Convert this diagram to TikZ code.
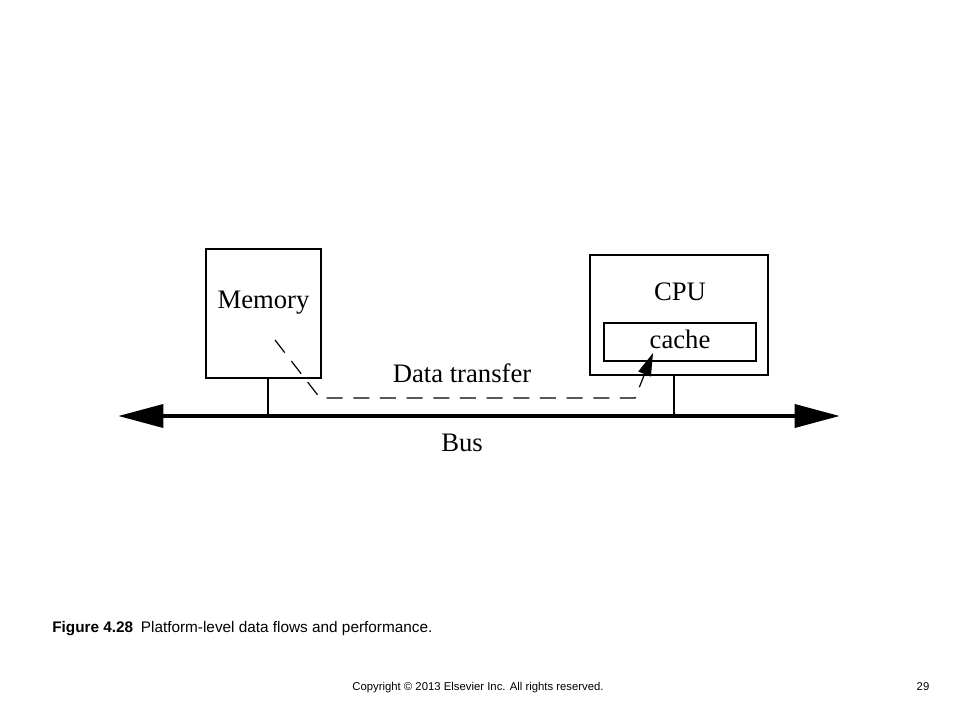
\documentclass[tikz,border=0pt]{standalone}
\usepackage{fontspec}
\setmainfont{Liberation Serif}
\newfontfamily\capfont{Liberation Sans}
\usetikzlibrary{arrows.meta}

\begin{document}
\begin{tikzpicture}[x=0.75pt, y=-0.75pt,
		unit/.style = {draw, line width=1pt, inner sep=0pt},
		lbl/.style = {font=\fontsize{20}{24}\selectfont, inner sep=0pt},
		bus/.style = {line width=3.5pt, {Triangle[length=34pt,width=17pt]}-{Triangle[length=34pt,width=17pt]}},
		tap/.style = {line width=0.9pt},
		flow/.style = {line width=0.9pt, dash pattern=on 12pt off 8pt, -{Triangle[length=17pt,width=10pt]}},
		capt/.style = {font=\capfont\fontsize{11.5}{14}\selectfont, inner sep=0pt, anchor=base west},
		foot/.style = {font=\capfont\fontsize{8.5}{10}\selectfont, inner sep=0pt, anchor=base}]
			\useasboundingbox (0,0) rectangle (960,720);
			
			\node[unit, minimum width=86.25pt, minimum height=96.75pt] (mem) at (263.5,313.5) {};
			\node[lbl] (memtxt) at (263.5,303) {Memory};
			
			\node[unit, minimum width=133.5pt, minimum height=90pt] (cpu) at (679,315) {};
			\node[lbl] (cputxt) at (680,292) {CPU};
			\node[unit, lbl, draw, line width=1pt, text depth=4.5pt, minimum width=114pt, minimum height=28.5pt] (cache) at (680,342) {cache};
			
			\coordinate (busL) at (118,416);
			\coordinate (busR) at (840,416);
			\coordinate (memtap) at (268,416);
			\coordinate (cputap) at (674,416);
			\draw[bus] (busL) -- (busR);
			\draw[tap] (mem.south -| memtap) -- (memtap);
			\draw[tap] (cpu.south -| cputap) -- (cputap);
			
			\coordinate (fs) at (275,340);
			\coordinate (f1) at (320,398);
			\coordinate (f2) at (635,398);
			\coordinate (ft) at (653,353);
			\draw[flow] (fs) -- (f1) -- (f2) -- (ft);
			
			\node[lbl] (dt) at (462,373) {Data transfer};
			\node[lbl] (bustxt) at (462,443) {Bus};
			
			\node[capt] (cap) at (52,632) {\textbf{Figure 4.28}\enspace Platform-level data flows and performance.};
			\node[foot] (copy) at (478,690) {Copyright \textcopyright{} 2013 Elsevier Inc. All rights reserved.};
			\node[foot] (pg) at (923,690) {29};
			
\end{tikzpicture}
\end{document}
